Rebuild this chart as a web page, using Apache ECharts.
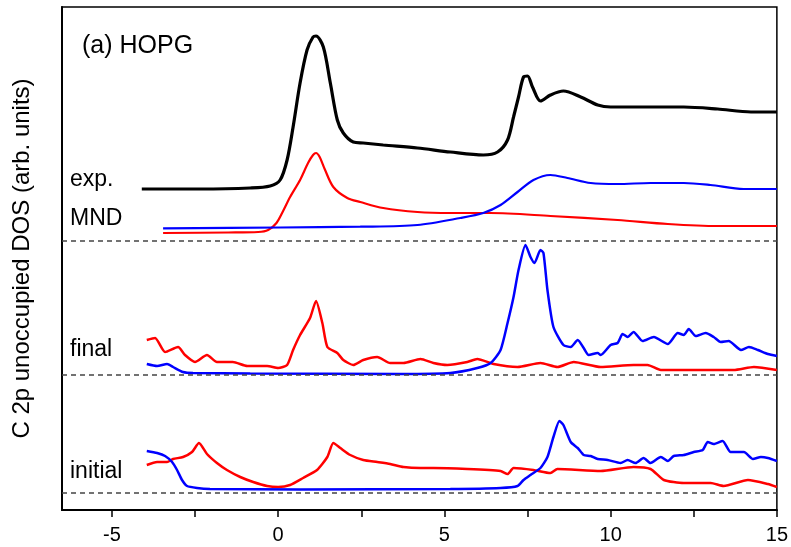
<!DOCTYPE html>
<html>
<head>
<meta charset="utf-8">
<script src="https://cdn.jsdelivr.net/npm/echarts@6/dist/echarts.min.js"></script>
<style>
  html, body { margin: 0; padding: 0; background: #fff; }
  #chart { width: 791px; height: 547px; }
</style>
</head>
<body>
<div id="chart"></div>
<script>
// Energy axis ticks (eV)
const majorTicks = [-5, 0, 5, 10, 15];
const minorTicks = [-5, -2.5, 0, 2.5, 5, 7.5, 10, 12.5, 15];

// Zero lines of the three stacked panels (arb. units)
const baselines = [28.6, 15.25, 3.47];

// Panel labels
const panelLabels = ['exp.', 'MND', 'final', 'initial'];
const titleText = '(a) HOPG';

// Experimental spectrum
const expData = [[-4.10,33.8],[-2.35,33.8],[-0.84,33.9],[-0.24,34.1],[0.06,34.7],[0.27,36.7],[0.45,40.0],[0.66,44.4],[0.87,47.7],[1.05,49.0],[1.14,49.1],[1.36,48.0],[1.57,44.4],[1.78,40.7],[1.96,39.4],[2.26,38.5],[2.56,38.4],[3.16,38.2],[4.19,37.9],[5.18,37.5],[6.17,37.2],[6.60,37.5],[6.90,38.7],[7.08,41.0],[7.23,43.0],[7.38,45.0],[7.50,45.1],[7.65,44.0],[7.89,42.6],[8.19,43.2],[8.58,43.6],[9.10,43.0],[9.61,42.2],[10.0,42.0],[10.69,42.0],[12.2,42.0],[13.22,41.8],[14.22,41.5],[15,41.5]];

// MND spectra
const mndRed = [[-3.46,29.4],[-1.5,29.45],[-0.6,29.5],[-0.3,29.7],[-0.05,30.4],[0.15,31.6],[0.36,33.0],[0.66,34.7],[0.90,36.4],[1.05,37.2],[1.14,37.4],[1.25,37.0],[1.40,35.8],[1.66,34.0],[2.08,32.9],[2.47,32.5],[3.16,31.9],[4.19,31.5],[5.18,31.4],[6.39,31.4],[8.19,31.1],[10.21,30.7],[11.72,30.3],[13.22,30.1],[15,30.1]];
const mndBlue = [[-3.46,29.87],[0.06,29.95],[2.47,30.03],[4.19,30.2],[5.48,30.9],[6.17,31.4],[6.69,32.2],[7.2,33.5],[7.68,34.7],[8.19,35.2],[8.70,34.9],[9.40,34.4],[10.21,34.3],[11.2,34.4],[12.2,34.4],[13.0,34.2],[14.0,33.8],[15,33.8]];

// Final-state spectra
const finalRed = [[-3.95,18.7],[-3.70,18.9],[-3.40,17.5],[-3.01,18.0],[-2.80,17.2],[-2.50,16.5],[-2.14,17.2],[-1.84,16.5],[-1.36,16.5],[-0.93,16.1],[-0.33,16.1],[0,15.9],[0.27,16.2],[0.45,17.7],[0.66,19.2],[0.96,20.9],[1.14,22.6],[1.33,20.4],[1.48,18.0],[1.78,17.4],[1.96,16.7],[2.26,16.2],[2.56,16.7],[2.98,17.0],[3.37,16.4],[3.77,16.4],[4.28,16.8],[4.67,16.4],[5.09,16.2],[5.69,16.5],[5.99,16.8],[6.48,16.3],[7.20,16.0],[7.89,16.4],[8.40,16.0],[8.89,16.5],[9.70,16.0],[10.69,16.2],[11.11,16.2],[11.51,15.7],[12.71,15.7],[13.70,15.7],[14.31,16.0],[15,15.7]];
const finalBlue = [[-3.95,16.3],[-3.64,16.1],[-3.34,16.3],[-3.16,16.0],[-2.86,15.5],[-2.56,15.4],[-0.84,15.35],[3.67,15.3],[5.18,15.4],[5.99,15.9],[6.39,16.4],[6.69,17.7],[6.90,20.4],[7.08,23.0],[7.23,25.7],[7.44,28.2],[7.59,27.0],[7.71,26.4],[7.89,27.7],[7.98,27.4],[8.10,23.7],[8.28,20.0],[8.58,18.2],[8.80,18.0],[9.01,18.7],[9.19,17.9],[9.34,17.2],[9.61,17.4],[9.70,17.2],[10.0,18.2],[10.21,18.4],[10.36,19.3],[10.51,19.0],[10.69,19.5],[10.96,18.6],[11.30,19.0],[11.72,18.3],[12.02,19.4],[12.20,19.2],[12.35,19.8],[12.56,19.1],[12.86,19.4],[13.10,19.0],[13.31,18.5],[13.55,18.6],[13.92,17.7],[14.16,18.0],[14.43,17.7],[14.73,17.3],[15,17.1]];

// Initial-state spectra
const initialRed = [[-3.95,6.2],[-3.64,6.5],[-3.34,6.5],[-3.16,6.8],[-2.86,7.0],[-2.59,7.5],[-2.38,8.4],[-2.14,7.3],[-1.84,6.4],[-1.54,5.7],[-1.14,5.0],[-0.75,4.5],[-0.33,4.1],[0,4.0],[0.36,4.2],[0.75,4.9],[1.17,5.7],[1.48,7.0],[1.66,8.4],[1.87,7.9],[2.17,7.2],[2.56,6.7],[2.98,6.5],[3.37,6.3],[3.77,6.0],[4.28,5.9],[4.67,5.9],[5.69,5.8],[6.69,5.6],[6.90,5.3],[7.08,5.9],[7.68,5.7],[8.19,5.4],[8.40,5.8],[9.70,5.6],[10.69,6.0],[11.20,5.8],[11.60,4.7],[12.20,4.4],[13.01,4.4],[13.40,4.1],[14.13,4.7],[14.73,4.3],[15,4.0]];
const initialBlue = [[-3.95,7.6],[-3.64,7.4],[-3.40,7.1],[-3.19,6.5],[-3.04,5.7],[-2.89,4.7],[-2.74,4.1],[-2.44,3.9],[-2.05,3.8],[0.66,3.75],[5.18,3.8],[6.69,3.9],[7.20,4.1],[7.38,4.7],[7.59,5.2],[7.89,5.9],[8.10,7.0],[8.28,9.0],[8.46,10.6],[8.58,10.2],[8.80,8.5],[9.01,7.9],[9.19,7.2],[9.40,7.1],[9.61,6.8],[9.91,6.7],[10.30,6.4],[10.51,6.7],[10.75,6.4],[10.99,6.9],[11.20,6.4],[11.51,7.0],[11.72,6.6],[11.90,7.1],[12.20,7.2],[12.50,7.5],[12.77,7.7],[12.92,8.5],[13.10,8.3],[13.37,8.6],[13.61,7.5],[14.01,7.5],[14.28,6.8],[14.52,7.0],[14.73,6.9],[15,6.6]];

const RED = '#ff0000';
const BLUE = '#0000ff';
const FONT = '"Liberation Sans", Arial, sans-serif';

function curve(name, data, color, width, smooth) {
  return {
    name: name,
    type: 'line',
    data: data,
    showSymbol: false,
    smooth: smooth,
    lineStyle: { color: color, width: width },
    z: 3
  };
}

const chart = echarts.init(document.getElementById('chart'), null, { renderer: 'canvas' });

const series = [
  curve('exp', expData, '#000000', 3.2, 0.3),
  curve('MND red', mndRed, RED, 2.2, 0.3),
  curve('MND blue', mndBlue, BLUE, 2.2, 0.3),
  curve('final red', finalRed, RED, 2.5, 0.2),
  curve('final blue', finalBlue, BLUE, 2.5, 0.2),
  curve('initial red', initialRed, RED, 2.5, 0.2),
  curve('initial blue', initialBlue, BLUE, 2.5, 0.2)
];

// Dashed zero lines for each panel
series.push({
  name: 'baselines',
  type: 'line',
  data: [],
  markLine: {
    silent: true,
    symbol: ['none', 'none'],
    label: { show: false },
    lineStyle: { color: '#444444', type: [5, 4], width: 1.5 },
    data: baselines.map(v => ({ yAxis: v }))
  },
  z: 2
});

const labelY = [180, 219, 350, 472];

chart.setOption({
  animation: false,
  backgroundColor: '#ffffff',
  grid: {
    left: 62, right: 14, top: 7, bottom: 37,
    show: true, borderColor: '#000', borderWidth: 1.5, backgroundColor: 'transparent'
  },
  xAxis: {
    type: 'value',
    min: -6.5,
    max: 15,
    axisLine: { show: true, onZero: false, lineStyle: { color: '#000', width: 2 } },
    axisTick: { show: true, inside: false, length: 7, customValues: minorTicks, lineStyle: { color: '#000', width: 1.5 } },
    axisLabel: { customValues: majorTicks, color: '#000', fontSize: 20, fontFamily: FONT, margin: 15 },
    splitLine: { show: false }
  },
  yAxis: {
    type: 'value',
    min: 1.7,
    max: 52,
    name: 'C 2p unoccupied DOS (arb. units)',
    nameLocation: 'middle',
    nameGap: 28,
    nameTextStyle: { color: '#000', fontSize: 24, fontFamily: FONT },
    axisLine: { show: true, onZero: false, lineStyle: { color: '#000', width: 2 } },
    axisTick: { show: false },
    axisLabel: { show: false },
    splitLine: { show: false }
  },
  graphic: [
    {
      type: 'text', left: 82, top: 34,
      style: { text: titleText, font: '25px ' + FONT, fill: '#000' }
    }
  ].concat(panelLabels.map((t, i) => ({
    type: 'text', x: 70, y: labelY[i],
    style: { text: t, font: '23px ' + FONT, fill: '#000', verticalAlign: 'middle' }
  }))),
  series: series
});
</script>
</body>
</html>
